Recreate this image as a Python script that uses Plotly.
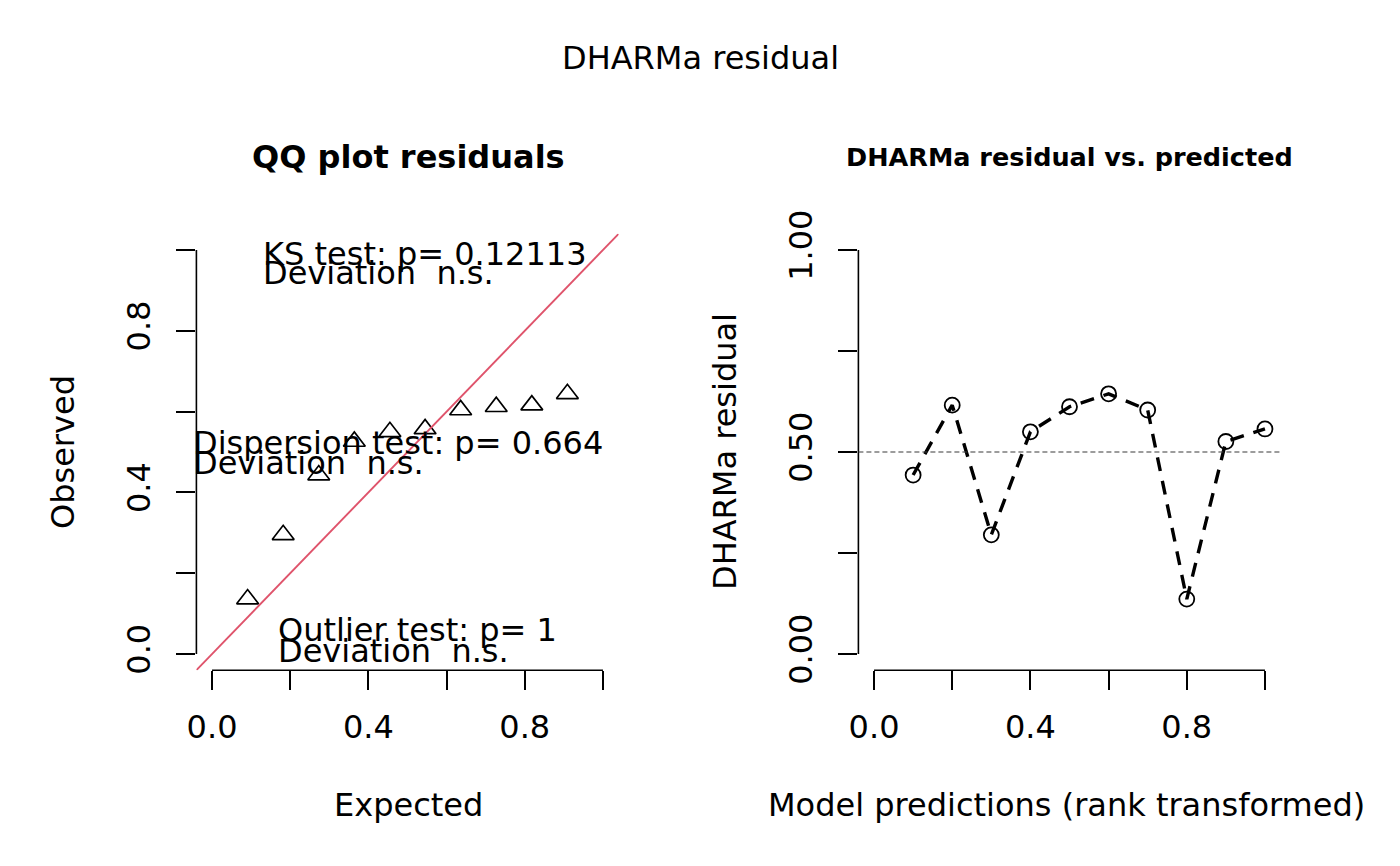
import plotly.graph_objects as go

rank_pred = [0.1, 0.2, 0.3, 0.4, 0.5, 0.6, 0.7, 0.8, 0.9, 1.0]
residuals = [0.443, 0.616, 0.295, 0.550, 0.612, 0.644, 0.604, 0.136, 0.526, 0.557]

expected = [0.091, 0.182, 0.273, 0.364, 0.455, 0.545, 0.636, 0.727, 0.818, 0.909]
observed = sorted(residuals)

ks_lines = ["KS test: p= 0.12113", "Deviation \u00a0n.s."]
disp_lines = ["Dispersion test: p= 0.664", "Deviation \u00a0n.s."]
outl_lines = ["Outlier test: p= 1", "Deviation \u00a0n.s."]

unit_ticks = [0, 0.2, 0.4, 0.6, 0.8, 1.0]
unit_ticklabels = ["0.0", "", "0.4", "", "0.8", ""]
res_ticks = [0, 0.25, 0.5, 0.75, 1.0]
res_ticklabels = ["0.00", "", "0.50", "", "1.00"]

FONT = "DejaVu Sans"
W, H = 1400, 866
PAGE_PAD = 8   # default body margin of the html page
RED = "#DF536B"


def px(x, y):
    # screen pixel position -> paper coords
    return (x - PAGE_PAD) / W, 1 - (y - PAGE_PAD) / H


def xdom(left, right):
    return [px(left, 0)[0], px(right, 0)[0]]


def ydom(top, bottom):
    return [px(0, bottom)[1], px(0, top)[1]]


fig = go.Figure()

fig.add_trace(go.Scatter(
    x=expected, y=observed, mode="markers", xaxis="x", yaxis="y",
    marker=dict(symbol="triangle-up-open", size=19, color="black",
                line=dict(width=1.7, color="black")),
    showlegend=False, hoverinfo="skip"))

fig.add_trace(go.Scatter(
    x=rank_pred, y=residuals, mode="lines+markers", xaxis="x2", yaxis="y2",
    line=dict(color="black", width=3.4, dash="14px,10px"),
    marker=dict(symbol="circle-open", size=15, color="black",
                line=dict(width=1.8, color="black")),
    showlegend=False, hoverinfo="skip"))

axis_common = dict(
    range=[-0.04, 1.04], showgrid=False, zeroline=False, showline=False,
    ticks="outside", ticklen=19, tickwidth=1.5, tickcolor="black",
    tickfont=dict(family=FONT, size=32, color="black"),
)

shapes = []
# R style axis lines that run from first to last tick
for xr, yr in (("x", "y"), ("x2", "y2")):
    shapes.append(dict(type="line", xref=xr, yref=yr + " domain",
                       x0=0, x1=1, y0=0, y1=0,
                       line=dict(color="black", width=1.6)))
    shapes.append(dict(type="line", xref=xr + " domain", yref=yr,
                       x0=0, x1=0, y0=0, y1=1,
                       line=dict(color="black", width=1.6)))
# 1:1 line in the QQ panel
shapes.append(dict(type="line", xref="x", yref="y", x0=-0.04, y0=-0.04,
                   x1=1.04, y1=1.04, line=dict(color=RED, width=1.9)))
# reference at 0.5 in the residual panel
shapes.append(dict(type="line", xref="x2 domain", yref="y2", x0=0, x1=1,
                   y0=0.5, y1=0.5,
                   line=dict(color="#3a3a3a", width=1.2, dash="5px,3px")))

annotations = []


def label(text, x, y, size=32, bold=False, angle=0, anchor="center"):
    ax, ay = px(x, y)
    if bold:
        text = "<b>" + text + "</b>"
    annotations.append(dict(text=text, x=ax, y=ay, xref="paper", yref="paper",
                            xanchor=anchor, yanchor="middle", showarrow=False,
                            textangle=angle,
                            font=dict(family=FONT, size=size, color="black")))


label("DHARMa residual", 700, 58)
label("QQ plot residuals", 408, 157, bold=True)
label("DHARMa residual vs. predicted", 1069, 157, size=25.5, bold=True)
label("Expected", 408, 805)
label("Observed", 63, 452, angle=-90)
label("DHARMa residual", 725, 452, angle=-90)
label("Model predictions (rank transformed)", 1066, 805)

# test results, two overlapping lines each (R legend style)
for lines, x0, ys in ((ks_lines, 261, (254, 273)),
                      (disp_lines, 191, (443, 463)),
                      (outl_lines, 276, (630, 651))):
    for txt, yy in zip(lines, ys):
        label(txt, x0, yy, anchor="left")

panel_y = ydom(233.8, 670.2)

fig.update_layout(
    width=W, height=H, autosize=False,
    margin=dict(l=0, r=0, t=0, b=0, pad=0, autoexpand=False),
    paper_bgcolor="white", plot_bgcolor="white",
    xaxis=dict(domain=xdom(196.4, 618.6), anchor="y", tickvals=unit_ticks,
               ticktext=unit_ticklabels, ticklabelstandoff=9, **axis_common),
    yaxis=dict(domain=panel_y, anchor="x", tickvals=unit_ticks,
               ticktext=unit_ticklabels, tickangle=-90, ticklabelstandoff=14,
               **axis_common),
    xaxis2=dict(domain=xdom(858.4, 1280.6), anchor="y2", tickvals=unit_ticks,
                ticktext=unit_ticklabels, ticklabelstandoff=9, **axis_common),
    yaxis2=dict(domain=panel_y, anchor="x2", tickvals=res_ticks,
                ticktext=res_ticklabels, tickangle=-90, ticklabelstandoff=14,
                **axis_common),
    shapes=shapes,
    annotations=annotations,
)

fig.write_html("out.html")
